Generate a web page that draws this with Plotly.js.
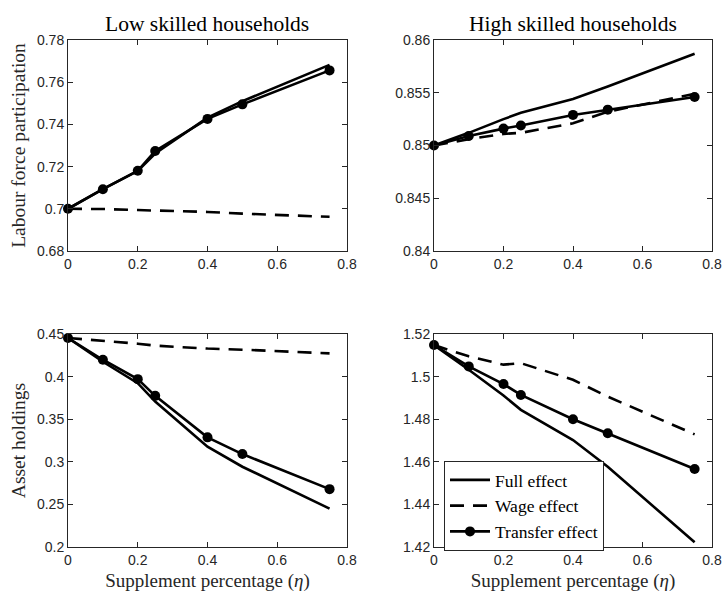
<!DOCTYPE html>
<html><head><meta charset="utf-8">
<script src="https://cdn.plot.ly/plotly-3.0.1.min.js"></script>
<style>body{margin:0;padding:0;background:#fff}#chart{width:722px;height:593px}</style>
</head><body><div id="chart"></div>
<script>
const eta = [0, 0.1, 0.2, 0.25, 0.4, 0.5, 0.75];

// Labour force participation, low skilled
const lfpLowFull     = [0.700, 0.7093, 0.7180, 0.7262, 0.7432, 0.7510, 0.7682];
const lfpLowWage     = [0.700, 0.6999, 0.6994, 0.6992, 0.6985, 0.6977, 0.6962];
const lfpLowTransfer = [0.700, 0.7093, 0.7180, 0.7274, 0.7426, 0.7495, 0.7656];
// Labour force participation, high skilled
const lfpHighFull     = [0.850, 0.8512, 0.8525, 0.8531, 0.8544, 0.8556, 0.8587];
const lfpHighWage     = [0.850, 0.8506, 0.8511, 0.8512, 0.8521, 0.8532, 0.8549];
const lfpHighTransfer = [0.850, 0.8509, 0.8516, 0.8519, 0.8529, 0.8534, 0.8546];
// Asset holdings, low skilled
const assetLowFull     = [0.4453, 0.4174, 0.3923, 0.3707, 0.3177, 0.2942, 0.2451];
const assetLowWage     = [0.4453, 0.4422, 0.4386, 0.4363, 0.4329, 0.4316, 0.4273];
const assetLowTransfer = [0.4453, 0.4198, 0.3970, 0.3774, 0.3287, 0.3091, 0.2679];
// Asset holdings, high skilled
const assetHighFull     = [1.5148, 1.5032, 1.4911, 1.4844, 1.4702, 1.4577, 1.4222];
const assetHighWage     = [1.5148, 1.5095, 1.5056, 1.5063, 1.4985, 1.4906, 1.4729];
const assetHighTransfer = [1.5148, 1.5048, 1.4965, 1.4914, 1.4800, 1.4734, 1.4566];

const seriesNames = ['Full effect', 'Wage effect', 'Transfer effect'];
const xTicks = [0, 0.2, 0.4, 0.6, 0.8];
const xTickText = ['0', '0.2', '0.4', '0.6', '0.8'];

const panels = [
  {xa:'x',  ya:'y',  data:[lfpLowFull, lfpLowWage, lfpLowTransfer], legend:false},
  {xa:'x2', ya:'y2', data:[lfpHighFull, lfpHighWage, lfpHighTransfer], legend:false},
  {xa:'x3', ya:'y3', data:[assetLowFull, assetLowWage, assetLowTransfer], legend:false},
  {xa:'x4', ya:'y4', data:[assetHighFull, assetHighWage, assetHighTransfer], legend:true},
];

const traces = [];
panels.forEach(p => {
  p.data.forEach((ys, i) => {
    const t = {
      x: eta, y: ys, xaxis: p.xa, yaxis: p.ya, name: seriesNames[i],
      type: 'scatter', showlegend: p.legend, cliponaxis: false,
      line: {color: '#000', width: 2.6, dash: i === 1 ? '14px,9px' : 'solid'},
      mode: i === 2 ? 'lines+markers' : 'lines',
    };
    if (i === 2) t.marker = {color: '#000', size: 10, symbol: 'circle'};
    traces.push(t);
  });
});

const tickFont = {family: 'Liberation Sans, Arial, sans-serif', size: 14, color: '#262626'};
const serif = 'Liberation Serif, Times New Roman, serif';
function xax(domain, anchor, title) {
  const a = {domain, anchor, range: [0, 0.8], tickvals: xTicks, ticktext: xTickText,
    ticks: 'inside', ticklen: 5, tickwidth: 1, tickcolor: '#262626', mirror: 'ticks',
    showline: true, linecolor: '#262626', linewidth: 1, showgrid: false, zeroline: false,
    tickfont: tickFont};
  if (title) a.title = {text: title, font: {family: serif, size: 19, color: '#262626'}, standoff: 6};
  return a;
}
function yax(domain, anchor, range, dtick, fmt, title) {
  const a = {domain, anchor, range, dtick, tick0: range[0], tickformat: fmt,
    ticks: 'inside', ticklen: 5, tickwidth: 1, tickcolor: '#262626', mirror: 'ticks',
    showline: true, linecolor: '#262626', linewidth: 1, showgrid: false, zeroline: false,
    tickfont: tickFont};
  if (title) a.title = {text: title, font: {family: serif, size: 19.5, color: '#262626'}, standoff: 6};
  return a;
}

const L = [68/722, 347/722], R = [434/722, 712/722];
const T = [1 - 251/593, 1 - 40/593], B = [1 - 547/593, 1 - 334/593];

const layout = {
  width: 722, height: 593,
  margin: {l: 0, r: 0, t: 0, b: 0},
  paper_bgcolor: '#fff', plot_bgcolor: '#fff',
  font: {family: serif, color: '#000'},
  xaxis: xax(L, 'y'),
  yaxis: yax(T, 'x', [0.68, 0.78], 0.02, '', 'Labour force participation'),
  xaxis2: xax(R, 'y2'),
  yaxis2: yax(T, 'x2', [0.84, 0.86], 0.005, '', null),
  xaxis3: xax(L, 'y3', 'Supplement percentage (<i>η</i>)'),
  yaxis3: yax(B, 'x3', [0.2, 0.45], 0.05, '', 'Asset holdings'),
  xaxis4: xax(R, 'y4', 'Supplement percentage (<i>η</i>)'),
  yaxis4: yax(B, 'x4', [1.42, 1.52], 0.02, '', null),
  showlegend: true,
  legend: {x: 444/722, y: 1 - 461/593, xanchor: 'left', yanchor: 'top',
    bgcolor: '#fff', bordercolor: '#262626', borderwidth: 1,
    font: {family: serif, size: 17.5, color: '#000'}, tracegroupgap: 0, itemwidth: 40},
  annotations: [
    {text: 'Low skilled households', x: (68+347)/2/722, y: 1 - 24/593, xref: 'paper', yref: 'paper',
     showarrow: false, xanchor: 'center', yanchor: 'middle', font: {family: serif, size: 21.5, color: '#000'}},
    {text: 'High skilled households', x: (434+712)/2/722, y: 1 - 24/593, xref: 'paper', yref: 'paper',
     showarrow: false, xanchor: 'center', yanchor: 'middle', font: {family: serif, size: 21.5, color: '#000'}},
  ],
};

Plotly.newPlot('chart', traces, layout, {displayModeBar: false, staticPlot: true});
</script>
</body></html>
